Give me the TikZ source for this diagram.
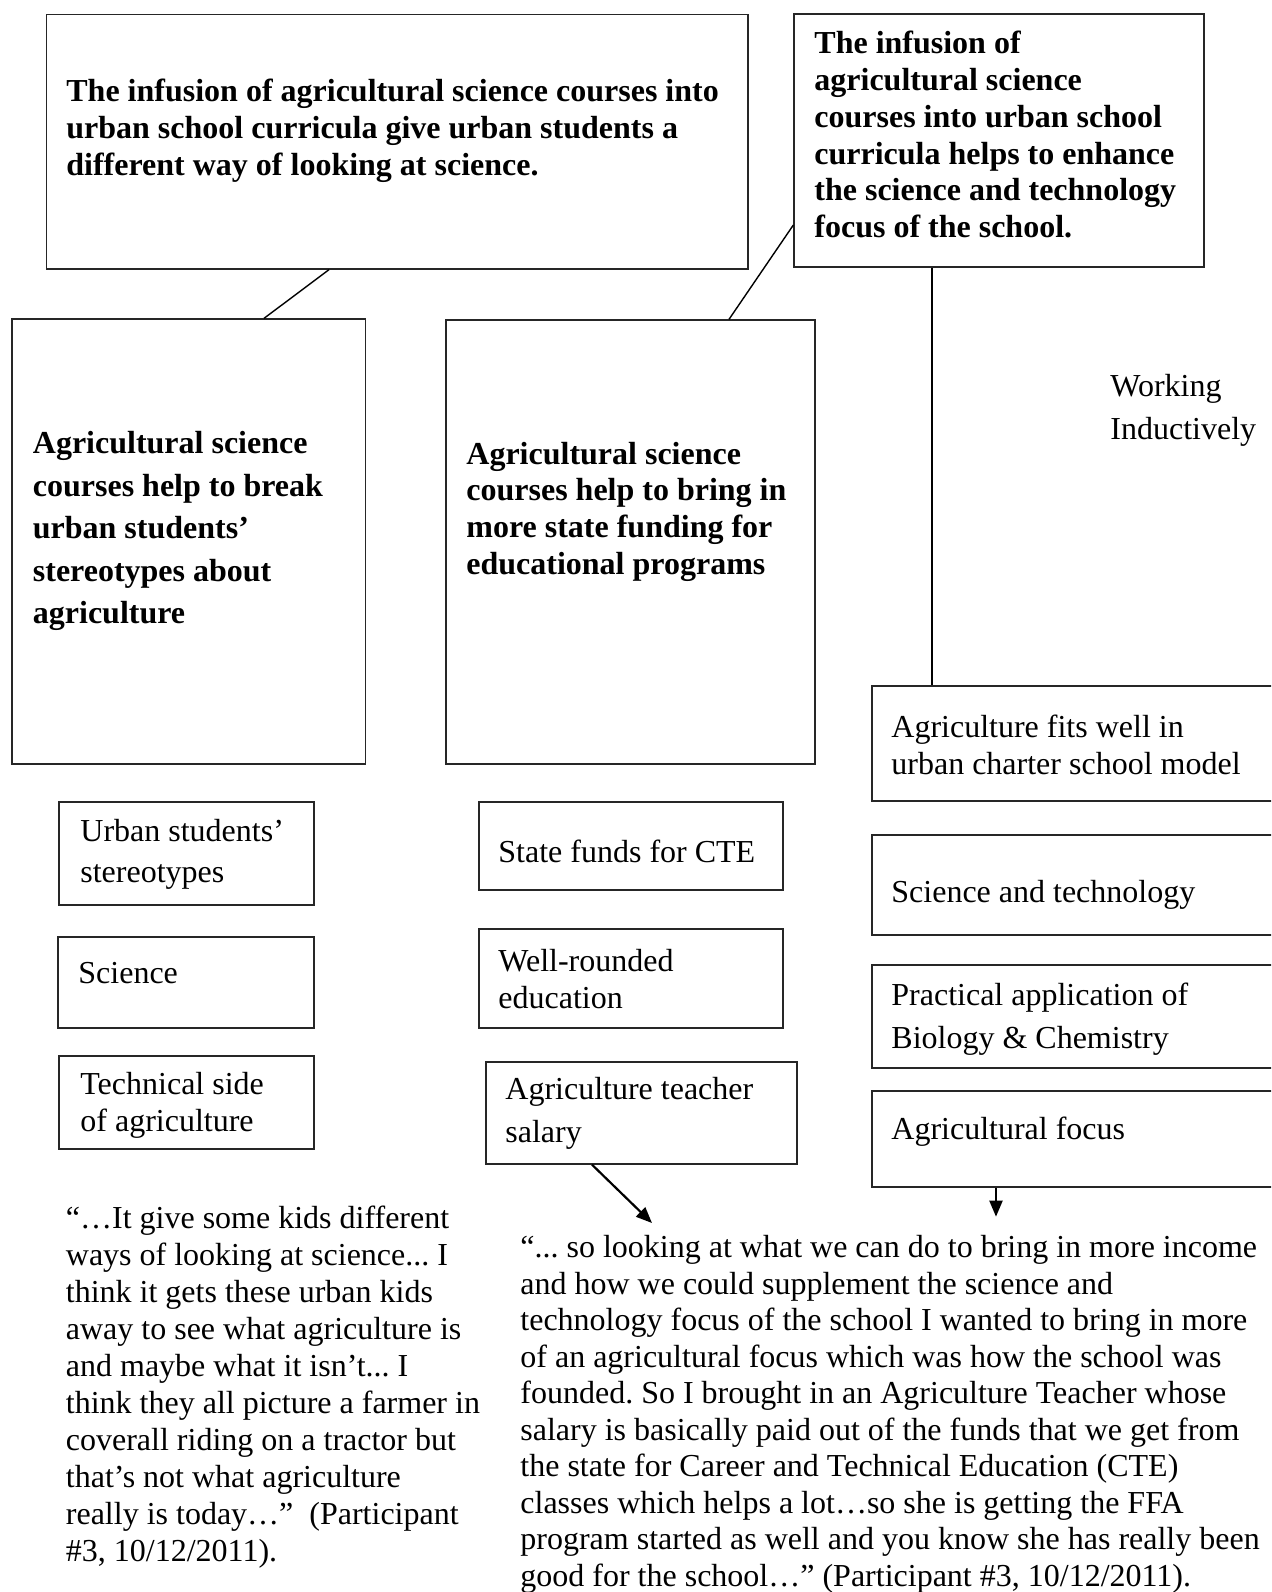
\documentclass[tikz,border=0pt]{standalone}
\usepackage{fontspec}
\setmainfont{Liberation Serif}
\usetikzlibrary{fit,calc,arrows.meta}
\frenchspacing
\tikzset{
  box/.style={draw=black!85, line width=0.65pt, inner sep=0pt, fill=none},
  txt/.style={anchor=north west, inner sep=0pt, align=left,
     execute at begin node={\rule{0pt}{13pt}}},
  bld/.style={txt, font=\fontsize{16}{#1}\selectfont\bfseries},
  bld/.default=18.4,
  rom/.style={txt, font=\fontsize{16}{#1}\selectfont},
  rom/.default=18.4,
  link/.style={draw=black, line width=0.7pt},
  arr/.style={draw=black, line width=1.1pt, -{Triangle[length=8pt,width=6.5pt]}}
}
\begin{document}
\begin{tikzpicture}[x=0.5pt,y=-0.5pt]
\useasboundingbox (0,0) rectangle (1271,1592);
\clip (0,0) rectangle (1271,1592);
% boxes
\node[box, fit={(46.7,14.2) (748,269)}] (A) {};
\node[box, fit={(794,14) (1204,267)}] (B) {};
\node[box, fit={(12,319) (365.5,764)}] (C) {};
\node[box, fit={(446,320) (815,764)}] (D) {};
\node[box, fit={(872,686) (1290,801)}] (R1) {};
\node[box, fit={(872,835) (1290,935)}] (R2) {};
\node[box, fit={(872,965) (1290,1068)}] (R3) {};
\node[box, fit={(872,1091) (1290,1187)}] (R4) {};
\node[box, fit={(59,802) (314,905)}] (L1) {};
\node[box, fit={(58,937) (314,1028)}] (L2) {};
\node[box, fit={(59,1056) (314,1149)}] (L3) {};
\node[box, fit={(479,802) (783,890)}] (M1) {};
\node[box, fit={(479,929) (783,1028)}] (M2) {};
\node[box, fit={(486,1062) (797,1164)}] (M3) {};
% texts
\node[bld] (tA) at (66,79) {The infusion of agricultural science courses into\\urban school curricula give urban students a\\different way of looking at science.};
\node[bld=18.35] (tB) at (814,31) {The infusion of\\agricultural science\\courses into urban school\\curricula helps to enhance\\the science and technology\\focus of the school.};
\node[bld=21.25] (tC) at (32.5,431) {Agricultural science\\courses help to break\\urban students’\\stereotypes about\\agriculture};
\node[bld=18.35] (tD) at (466,441.5) {Agricultural science\\courses help to bring in\\more state funding for\\educational programs};
\node[rom=21.5] (tWI) at (1110,374) {Working\\Inductively};
\node[rom=18.4] (tR1) at (891,715) {Agriculture fits well in\\urban charter school model};
\node[rom] (tR2) at (891,876) {Science and technology};
\node[rom=21.25] (tR3) at (891,983) {Practical application of\\Biology \& Chemistry};
\node[rom] (tR4) at (891,1113.5) {Agricultural focus};
\node[rom=20.5] (tL1) at (80,819) {Urban students’\\stereotypes};
\node[rom] (tL2) at (78,957) {Science};
\node[rom=18.4] (tL3) at (80,1072) {Technical side\\of agriculture};
\node[rom] (tM1) at (498,836) {State funds for CTE};
\node[rom=18.5] (tM2) at (498,949) {Well-rounded\\education};
\node[rom=21.5] (tM3) at (505,1077) {Agriculture teacher\\salary};
\node[rom=18.45] (Q1) at (65.5,1206) {“…It give some kids different\\ways of looking at science... I\\think it gets these urban kids\\away to see what agriculture is\\and maybe what it isn’t... I\\think they all picture a farmer in\\coverall riding on a tractor but\\that’s not what agriculture\\really is today…”\ \ (Participant\\\#3, 10/12/2011).};
\node[rom=18.25] (Q2) at (520,1235) {“... so looking at what we can do to bring in more income\\and how we could supplement the science and\\technology focus of the school I wanted to bring in more\\of an agricultural focus which was how the school was\\founded. So I brought in an Agriculture Teacher whose\\salary is basically paid out of the funds that we get from\\the state for Career and Technical Education (CTE)\\classes which helps a lot…so she is getting the FFA\\program started as well and you know she has really been\\good for the school…” (Participant \#3, 10/12/2011).};
% connectors
\draw[link] ($(A.south)+(-68.35,0)$) -- ($(C.north)+(75.25,0)$);
\draw[link] ($(B.west)+(0,84.5)$) -- ($(D.north)+(98.5,0)$);
\coordinate (bt) at ($(B.south)+(-67,0)$);
\draw[link] (bt) -- (bt |- R1.north);
\coordinate (mt) at ($(M3.south)+(-49.5,0)$);
\coordinate (mq) at (652,1223);
\draw[arr] (mt) -- (mq);
\coordinate (rt) at ($(R4.south)+(-85,0)$);
\coordinate (rq) at ($(rt)+(0,29)$);
\draw[arr] (rt) -- (rq);
\end{tikzpicture}
\end{document}
